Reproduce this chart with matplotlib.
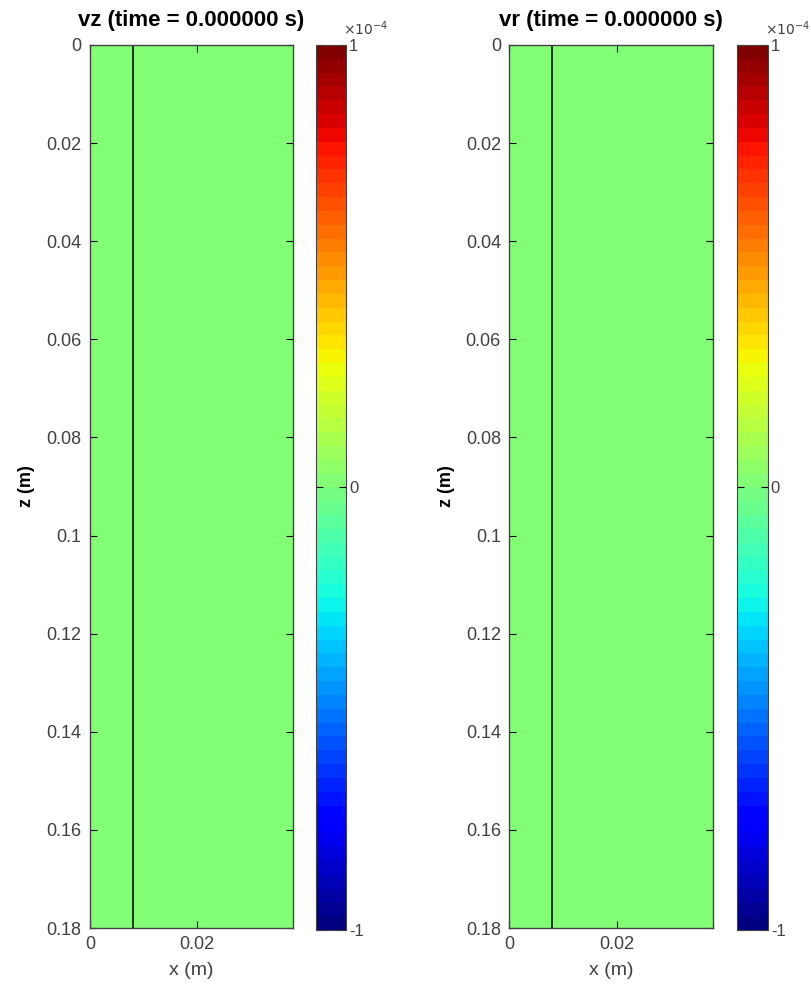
import numpy as np
import matplotlib
matplotlib.use("Agg")
import matplotlib.pyplot as plt

plt.rcParams.update({"font.family": ["Liberation Sans", "DejaVu Sans"]})

# ----------------------------------------------------------------------
# DATEN
# ----------------------------------------------------------------------
x_grid   = [0.0, 0.038]           # Rand des Rechengebiets [m]
z_grid   = [0.0, 0.18]
vz_field = [[0.0, 0.0], [0.0, 0.0]]   # t = 0: alles in Ruhe
vr_field = [[0.0, 0.0], [0.0, 0.0]]
x_wand   = 0.008                  # Position der Trennlinie [m]
c_lim    = [-1e-4, 1e-4]
titel    = ["vz (time = 0.000000 s)", "vr (time = 0.000000 s)"]
felder   = [vz_field, vr_field]
y_ticks  = [0, 0.02, 0.04, 0.06, 0.08, 0.1, 0.12, 0.14, 0.16, 0.18]
y_labels = ["0", "0.02", "0.04", "0.06", "0.08", "0.1", "0.12", "0.14", "0.16", "0.18"]
x_ticks  = [0, 0.02]
x_labels = ["0", "0.02"]
cb_ticks = [-1e-4, 0, 1e-4]
cb_labels = ["-1", "0", "1"]

fig = plt.figure(figsize=(8.11, 9.90), dpi=100)

ax_pos = [[0.111, 0.0626, 0.250, 0.892], [0.628, 0.0626, 0.2515, 0.892]]
cb_pos = [[0.390, 0.0606, 0.037, 0.894], [0.909, 0.0606, 0.038, 0.894]]

cmap = plt.get_cmap("jet", 64)   # wie MATLAB-Standard (64 Farben)
tick_col = "#404040"
for i in range(2):
    ax = fig.add_axes(ax_pos[i])
    im = ax.pcolormesh(x_grid, z_grid, np.array(felder[i]), cmap=cmap,
                       vmin=c_lim[0], vmax=c_lim[1], shading="gouraud")
    ax.axvline(x_wand, color="black", lw=1.1)
    ax.set_xlim(x_grid[0], x_grid[1])
    ax.set_ylim(z_grid[1], z_grid[0])
    ax.set_yticks(y_ticks)
    ax.set_yticklabels(y_labels)
    ax.set_xticks(x_ticks)
    ax.set_xticklabels(x_labels)
    ax.tick_params(direction="in", top=True, right=True, length=5,
                   labelsize=13, labelcolor=tick_col, pad=6)
    for s in ax.spines.values():
        s.set_color("#444444")
        s.set_linewidth(1.0)
    ax.set_title(titel[i], fontsize=16, fontweight="bold", pad=14)
    ax.set_xlabel("x (m)", fontsize=14, color=tick_col, labelpad=6)
    ax.set_ylabel("z (m)", fontsize=13, fontweight="bold", labelpad=8)

    cax = fig.add_axes(cb_pos[i])
    cb = fig.colorbar(im, cax=cax)
    cb.set_ticks(cb_ticks)
    cb.set_ticklabels(cb_labels)
    cax.tick_params(direction="in", left=True, right=True, length=5,
                    labelsize=12, labelcolor=tick_col, pad=2)
    cb.outline.set_edgecolor("#444444")
    cax.text(0.9, 1.008, r"$\times 10^{-4}$", transform=cax.transAxes,
             fontsize=10, color=tick_col, ha="left", va="bottom")

fig.savefig("out.png", dpi=100)
